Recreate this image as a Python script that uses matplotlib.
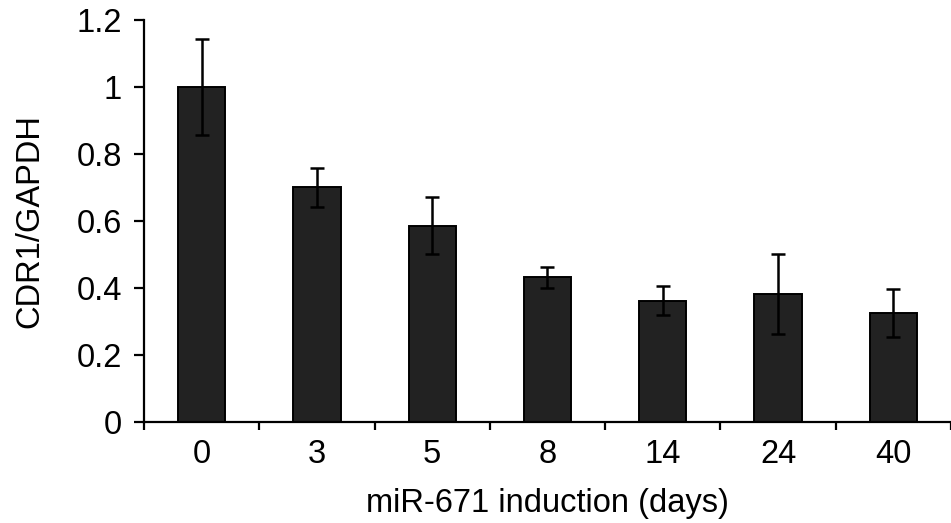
import matplotlib.pyplot as plt
import numpy as np

plt.rcParams['font.family'] = ['Liberation Sans', 'DejaVu Sans']

# CDR1 expression after miR-671 induction
days = ['0', '3', '5', '8', '14', '24', '40']
ratio = [1.0, 0.70, 0.586, 0.432, 0.362, 0.382, 0.326]
err = [0.142, 0.058, 0.085, 0.031, 0.043, 0.12, 0.071]

fig = plt.figure(figsize=(9.51, 5.23), dpi=100)
ax = fig.add_axes([0.1514, 0.1931, 0.8486, 0.7687])

x = np.arange(len(days))
ax.bar(x, ratio, width=0.41, color='#222222', edgecolor='black', linewidth=1.4, zorder=2)
ax.errorbar(x, ratio, yerr=err, fmt='none', ecolor='black', elinewidth=1.8,
            capsize=5, capthick=1.8, zorder=3)

ax.set_xlim(-0.5, len(days) - 0.5)
ax.set_ylim(0, 1.2)
ax.set_yticks([0, 0.2, 0.4, 0.6, 0.8, 1.0, 1.2])
ax.set_yticklabels(['0', '0.2', '0.4', '0.6', '0.8', '1', '1.2'])
ax.set_xticks(x)
ax.set_xticklabels(days)
ax.set_xticks(np.arange(len(days) + 1) - 0.5, minor=True)

for s in ['top', 'right']:
    ax.spines[s].set_visible(False)
for s in ['left', 'bottom']:
    ax.spines[s].set_linewidth(1.6)

fs = 23.5
ax.tick_params(axis='y', length=7, width=1.6, pad=9, labelsize=fs)
ax.tick_params(axis='x', which='major', length=0, pad=12, labelsize=fs)
ax.tick_params(axis='x', which='minor', length=6, width=1.6)

ax.set_ylabel('CDR1/GAPDH', fontsize=fs, labelpad=22)
ax.set_xlabel('miR-671 induction (days)', fontsize=fs, labelpad=13)

plt.savefig('out.png', dpi=100)
